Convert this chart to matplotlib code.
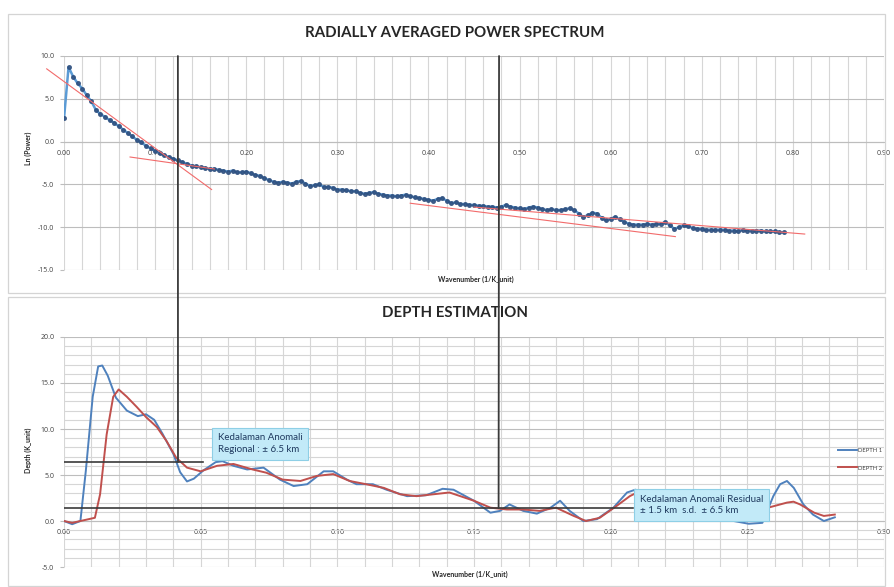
import matplotlib
matplotlib.use("Agg")
import matplotlib.pyplot as plt
from matplotlib.patches import ConnectionPatch, Rectangle
from matplotlib.ticker import MultipleLocator, FormatStrFormatter

plt.rcParams['font.family'] = ['Lato', 'DejaVu Sans']

# ---------------- data ----------------
# Radially averaged power spectrum (top chart)
spec_k = [0.000, 0.005, 0.010, 0.015, 0.020, 0.025, 0.030, 0.035, 0.040, 0.045,
          0.050, 0.055, 0.060, 0.065, 0.070, 0.075, 0.080, 0.085, 0.090, 0.095,
          0.100, 0.105, 0.110, 0.115, 0.120, 0.125, 0.130, 0.135, 0.140, 0.145,
          0.150, 0.155, 0.160, 0.165, 0.170, 0.175, 0.180, 0.185, 0.190, 0.195,
          0.200, 0.205, 0.210, 0.215, 0.220, 0.225, 0.230, 0.235, 0.240, 0.245,
          0.250, 0.255, 0.260, 0.265, 0.270, 0.275, 0.280, 0.285, 0.290, 0.295,
          0.300, 0.305, 0.310, 0.315, 0.320, 0.325, 0.330, 0.335, 0.340, 0.345,
          0.350, 0.355, 0.360, 0.365, 0.370, 0.375, 0.380, 0.385, 0.390, 0.395,
          0.400, 0.405, 0.410, 0.415, 0.420, 0.425, 0.430, 0.435, 0.440, 0.445,
          0.450, 0.455, 0.460, 0.465, 0.470, 0.475, 0.480, 0.485, 0.490, 0.495,
          0.500, 0.505, 0.510, 0.515, 0.520, 0.525, 0.530, 0.535, 0.540, 0.545,
          0.550, 0.555, 0.560, 0.565, 0.570, 0.575, 0.580, 0.585, 0.590, 0.595,
          0.600, 0.605, 0.610, 0.615, 0.620, 0.625, 0.630, 0.635, 0.640, 0.645,
          0.650, 0.655, 0.660, 0.665, 0.670, 0.675, 0.680, 0.685, 0.690, 0.695,
          0.700, 0.705, 0.710, 0.715, 0.720, 0.725, 0.730, 0.735, 0.740, 0.745,
          0.750, 0.755, 0.760, 0.765, 0.770, 0.775, 0.780, 0.785, 0.790]
spec_lnp = [2.7, 8.7, 7.6, 6.8, 6.2, 5.4, 4.7, 3.7, 3.2, 2.9,
            2.5, 2.2, 1.8, 1.4, 1.0, 0.6, 0.2, -0.1, -0.5, -0.8,
            -1.1, -1.3, -1.6, -1.8, -2.0, -2.2, -2.4, -2.6, -2.8, -2.9,
            -3.0, -3.1, -3.2, -3.2, -3.3, -3.4, -3.5, -3.4, -3.6, -3.6,
            -3.5, -3.7, -3.9, -4.0, -4.3, -4.5, -4.7, -4.8, -4.7, -4.8,
            -4.9, -4.7, -4.6, -4.9, -5.2, -5.1, -5.0, -5.3, -5.3, -5.4,
            -5.6, -5.6, -5.7, -5.8, -5.8, -6.0, -6.1, -6.0, -5.9, -6.1,
            -6.2, -6.3, -6.3, -6.4, -6.3, -6.2, -6.4, -6.5, -6.6, -6.7,
            -6.8, -6.9, -6.7, -6.6, -6.9, -7.2, -7.1, -7.3, -7.3, -7.4,
            -7.4, -7.5, -7.5, -7.6, -7.6, -7.7, -7.6, -7.4, -7.6, -7.7,
            -7.8, -7.9, -7.7, -7.6, -7.7, -7.9, -8.0, -7.9, -8.0, -8.0,
            -7.9, -7.8, -8.0, -8.4, -8.8, -8.6, -8.3, -8.4, -8.9, -9.2,
            -9.0, -8.8, -9.1, -9.4, -9.6, -9.7, -9.7, -9.7, -9.6, -9.7,
            -9.6, -9.6, -9.4, -9.8, -10.2, -10.0, -9.8, -9.9, -10.1, -10.2,
            -10.2, -10.3, -10.3, -10.3, -10.3, -10.3, -10.4, -10.4, -10.5, -10.3,
            -10.4, -10.4, -10.4, -10.4, -10.5, -10.5, -10.5, -10.6, -10.6]

# Linear fit segments (red) on the spectrum
fit1_k = [-0.019, 0.162]; fit1_v = [8.5, -5.6]
fit2_k = [0.0725, 0.165]; fit2_v = [-1.8, -3.2]
fit3_k = [0.380, 0.671];  fit3_v = [-7.2, -11.1]
fit4_k = [0.450, 0.813];  fit4_v = [-7.65, -10.8]

# Depth estimation (bottom chart)
d1_k = [0.000, 0.003, 0.006, 0.008, 0.0105, 0.0125, 0.014, 0.016, 0.019, 0.023,
        0.027, 0.030, 0.033, 0.036, 0.040, 0.0425, 0.045, 0.0475, 0.051, 0.0555,
        0.058, 0.062, 0.067, 0.073, 0.079, 0.084, 0.089, 0.095, 0.0985, 0.1035,
        0.107, 0.113, 0.118, 0.1255, 0.1325, 0.1385, 0.1425, 0.150, 0.156, 0.1595,
        0.163, 0.168, 0.173, 0.178, 0.1815, 0.185, 0.190, 0.195, 0.201, 0.206,
        0.209, 0.215, 0.225, 0.235, 0.245, 0.2505, 0.2555, 0.2595, 0.262, 0.2645,
        0.267, 0.2705, 0.274, 0.278, 0.282]
d1_v = [0.0, -0.35, 0.0, 5.5, 13.5, 16.8, 16.9, 15.8, 13.4, 12.0,
        11.4, 11.6, 11.0, 9.5, 7.3, 5.3, 4.3, 4.6, 5.5, 6.4,
        6.5, 6.0, 5.6, 5.8, 4.5, 3.8, 4.0, 5.4, 5.4, 4.5,
        4.0, 4.0, 3.4, 2.7, 2.8, 3.5, 3.4, 2.2, 0.9, 1.1,
        1.8, 1.1, 0.8, 1.45, 2.2, 1.1, 0.0, 0.2, 1.45, 3.1,
        3.4, 3.0, 1.8, 0.9, 0.0, -0.3, -0.2, 2.7, 4.0, 4.35,
        3.6, 1.8, 0.7, 0.0, 0.4]
d2_k = [0.000, 0.003, 0.006, 0.0113, 0.0132, 0.0156, 0.018, 0.020, 0.023, 0.0266,
        0.030, 0.034, 0.0375, 0.041, 0.045, 0.050, 0.056, 0.062, 0.069, 0.074,
        0.080, 0.0865, 0.0925, 0.0985, 0.1045, 0.1105, 0.117, 0.123, 0.129, 0.135,
        0.141, 0.150, 0.156, 0.162, 0.168, 0.174, 0.180, 0.1865, 0.191, 0.196,
        0.202, 0.207, 0.209, 0.218, 0.230, 0.242, 0.252, 0.257, 0.262, 0.2645,
        0.2669, 0.2693, 0.2745, 0.278, 0.282]
d2_v = [0.0, -0.2, 0.0, 0.35, 2.9, 9.4, 13.5, 14.3, 13.5, 12.4,
        11.3, 10.2, 8.7, 6.9, 5.8, 5.4, 6.0, 6.2, 5.6, 5.25,
        4.5, 4.35, 4.9, 5.1, 4.35, 4.0, 3.6, 2.9, 2.7, 2.9,
        3.1, 2.2, 1.45, 1.25, 1.25, 1.1, 1.45, 0.55, 0.0, 0.35,
        1.6, 2.7, 3.0, 2.8, 1.8, 1.0, 1.0, 1.4, 1.8, 2.0,
        2.1, 1.8, 0.9, 0.55, 0.7]
series_labels = ["DEPTH 1", "DEPTH 2"]

# Interpretation markers
regional_k_top, regional_k_depth, regional_depth = 0.125, 0.0417, 6.4
residual_k_top, residual_k_depth, residual_depth = 0.4775, 0.159, 1.4
regional_line_end, residual_line_end = 0.051, 0.208
regional_text = "Kedalaman Anomali\nRegional : \u00b1 6.5 km"
residual_text = "Kedalaman Anomali Residual\n\u00b1 1.5 km  s.d.  \u00b1 6.5 km"

# ---------------- figure ----------------
W, H = 894, 587
fig = plt.figure(figsize=(W / 100, H / 100), dpi=100)

def fx(px):
    return px / W

def fy(py):
    return 1 - py / H

# chart-area frames
fig.patches.append(Rectangle((fx(8), fy(293)), fx(885) - fx(8), fy(14) - fy(293),
                             transform=fig.transFigure, fill=False, ec='#d4d4d4', lw=0.9))
fig.patches.append(Rectangle((fx(8), fy(586)), fx(885) - fx(8), fy(297) - fy(586),
                             transform=fig.transFigure, fill=False, ec='#d4d4d4', lw=0.9))

ax1 = fig.add_axes([fx(64), fy(270), fx(884) - fx(64), fy(56) - fy(270)])
ax2 = fig.add_axes([fx(64), fy(567), fx(884) - fx(64), fy(337) - fy(567)])

grid_major = '#bdbdbd'
grid_minor = '#d6d6d6'
tick_font = 5.0
lbl_col = '#404040'

for ax in (ax1, ax2):
    for s in ax.spines.values():
        s.set_visible(False)
    ax.spines['bottom'].set_visible(True)
    ax.spines['bottom'].set_position(('data', 0))
    ax.spines['bottom'].set_color(grid_major)
    ax.spines['bottom'].set_linewidth(0.8)
    ax.set_axisbelow(True)
    ax.tick_params(axis='x', which='both', length=0, labelsize=tick_font, colors=lbl_col, pad=6)
    ax.tick_params(axis='y', which='major', length=3, labelsize=tick_font, colors=lbl_col,
                   pad=4, color=grid_major)
    ax.tick_params(axis='y', which='minor', length=0)

# ---- top chart ----
ax1.set_xlim(0, 0.90)
ax1.set_ylim(-15, 10)
ax1.xaxis.set_major_locator(MultipleLocator(0.10))
ax1.xaxis.set_minor_locator(MultipleLocator(0.02))
ax1.yaxis.set_major_locator(MultipleLocator(5))
ax1.xaxis.set_major_formatter(FormatStrFormatter('%.2f'))
ax1.yaxis.set_major_formatter(FormatStrFormatter('%.1f'))
ax1.grid(True, which='both', axis='x', color=grid_minor, lw=0.8)
ax1.grid(True, which='major', axis='y', color=grid_major, lw=0.8)

ax1.plot(spec_k, spec_lnp, color='#5b9bd5', lw=1.8, zorder=3)
ax1.plot(spec_k, spec_lnp, ls='none', marker='o', ms=2.6, mfc='#2e4f7e', mec='#2e4f7e',
         alpha=0.85, zorder=4)
for fk, fv in ((fit1_k, fit1_v), (fit2_k, fit2_v), (fit3_k, fit3_v), (fit4_k, fit4_v)):
    ax1.plot(fk, fv, color='#f26b6b', lw=0.8, zorder=5, clip_on=False)

# ---- bottom chart ----
ax2.set_xlim(0, 0.30)
ax2.set_ylim(-5, 20)
ax2.xaxis.set_major_locator(MultipleLocator(0.05))
ax2.xaxis.set_minor_locator(MultipleLocator(0.01))
ax2.yaxis.set_major_locator(MultipleLocator(5))
ax2.yaxis.set_minor_locator(MultipleLocator(1))
ax2.xaxis.set_major_formatter(FormatStrFormatter('%.2f'))
ax2.yaxis.set_major_formatter(FormatStrFormatter('%.1f'))
ax2.grid(True, which='both', axis='x', color=grid_minor, lw=0.8)
ax2.grid(True, which='minor', axis='y', color=grid_minor, lw=0.8)
ax2.grid(True, which='major', axis='y', color=grid_major, lw=0.8)

for ax in (ax1, ax2):
    for lab in ax.get_xticklabels() + ax.get_yticklabels():
        lab.set_family(['Open Sans', 'DejaVu Sans'])

l1, = ax2.plot(d1_k, d1_v, color='#4f81bd', lw=1.4, zorder=3)
l2, = ax2.plot(d2_k, d2_v, color='#c0504d', lw=1.4, zorder=3)

ax2.plot([0, regional_line_end], [regional_depth, regional_depth], color='#3a3a3a', lw=1.2, zorder=4)
ax2.plot([0, residual_line_end], [residual_depth, residual_depth], color='#3a3a3a', lw=1.2, zorder=4)

box_style = dict(boxstyle='square,pad=0.6', fc='#c2eaf8', ec='#8ecfe6', lw=0.8)
ax2.text(0.0562, 8.4, regional_text, ha='left', va='center', fontsize=7.0,
         color='#1f3a5f', bbox=box_style, zorder=6, linespacing=1.35)
ax2.text(0.2106, 1.75, residual_text, ha='left', va='center', fontsize=7.0,
         color='#1f3a5f', bbox=box_style, zorder=6, linespacing=1.35)

fig.text(fx(455), fy(33), "RADIALLY AVERAGED POWER SPECTRUM",
         ha='center', va='center', fontsize=10.8, fontweight='bold', color='#262626')
fig.text(fx(28), fy(148), "Ln (Power)", rotation=90, ha='center', va='center',
         fontsize=5, fontweight='bold', color='#262626')
fig.text(fx(476), fy(279), "Wavenumber (1/K_unit)", ha='center', va='center',
         fontsize=5, fontweight='bold', color='#262626')
fig.text(fx(455), fy(313), "DEPTH ESTIMATION",
         ha='center', va='center', fontsize=10.8, fontweight='bold', color='#262626')
fig.text(fx(28), fy(450), "Depth (K_unit)", rotation=90, ha='center', va='center',
         fontsize=5, fontweight='bold', color='#262626')
fig.text(fx(470), fy(574), "Wavenumber (1/K_unit)", ha='center', va='center',
         fontsize=5, fontweight='bold', color='#262626')

fig.legend([l1, l2], series_labels, loc='center left', bbox_to_anchor=(fx(838), fy(459)),
           frameon=False, fontsize=4.2, handlelength=3.2, handletextpad=0.3,
           borderpad=0, borderaxespad=0, labelspacing=2.2, labelcolor='#404040')

# ---- vertical interpretation lines across both charts ----
for ktop, kdep, dep in ((regional_k_top, regional_k_depth, regional_depth),
                        (residual_k_top, residual_k_depth, residual_depth)):
    con = ConnectionPatch(xyA=(ktop, 10), coordsA=ax1.transData,
                          xyB=(kdep, dep), coordsB=ax2.transData,
                          color='#3a3a3a', lw=1.3, zorder=10)
    fig.add_artist(con)

fig.savefig("out.png", dpi=100)
